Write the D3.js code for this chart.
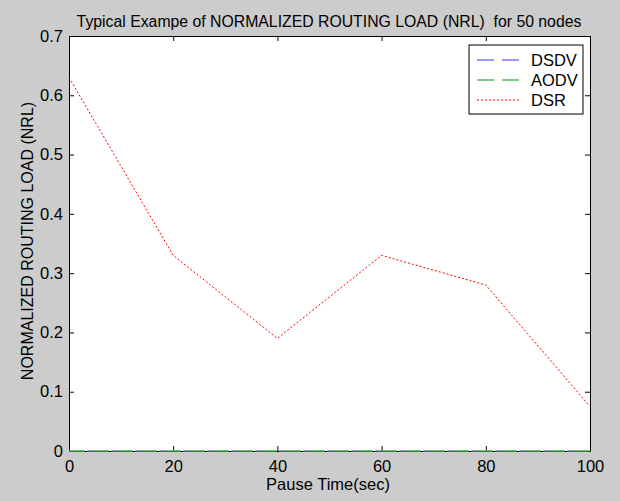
<!DOCTYPE html>
<html>
<head>
<meta charset="utf-8">
<script src="https://d3js.org/d3.v7.min.js"></script>
<style>
  body { margin: 0; background: #cccccc; }
  svg { display: block; font-family: "Liberation Sans", Arial, sans-serif; }
</style>
</head>
<body>
<div id="chart"></div>
<script>
// data
var pauseTimes = [0, 20, 40, 60, 80, 100];
var dsdv = [0, 0, 0, 0, 0, 0];
var aodv = [0, 0, 0, 0, 0, 0];
var dsr = [0.63, 0.33, 0.19, 0.33, 0.28, 0.075];
var xTicks = [0, 20, 40, 60, 80, 100];
var yTicks = [0, 0.1, 0.2, 0.3, 0.4, 0.5, 0.6, 0.7];
var seriesNames = ["DSDV", "AODV", "DSR"];

var width = 620, height = 501;
var margin = {left: 69, top: 36, right: 30, bottom: 50};

var svg = d3.select("#chart").append("svg")
    .attr("width", width)
    .attr("height", height);

svg.append("rect").attr("width", width).attr("height", height).attr("fill", "#cccccc");

var x = d3.scaleLinear().domain([0, 100]).range([margin.left, width - margin.right]);
var y = d3.scaleLinear().domain([0, 0.7]).range([height - margin.bottom, margin.top]);

// plot area
svg.append("rect")
    .attr("x", x(0)).attr("y", y(0.7))
    .attr("width", x(100) - x(0)).attr("height", y(0) - y(0.7))
    .attr("fill", "#ffffff");

// axes, ticks pointing inward like matlab
var fmtY = function(d) { return d === 0 ? "0" : d3.format(".1f")(d); };
var axB = svg.append("g").attr("transform", "translate(0," + y(0) + ")")
    .call(d3.axisBottom(x).tickValues(xTicks).tickSizeInner(-5).tickSizeOuter(0).tickPadding(9));
var axT = svg.append("g").attr("transform", "translate(0," + y(0.7) + ")")
    .call(d3.axisTop(x).tickValues(xTicks).tickSizeInner(-5).tickSizeOuter(0).tickFormat(""));
var axL = svg.append("g").attr("transform", "translate(" + x(0) + ",0)")
    .call(d3.axisLeft(y).tickValues(yTicks).tickFormat(fmtY).tickSizeInner(-5).tickSizeOuter(0).tickPadding(6));
var axR = svg.append("g").attr("transform", "translate(" + x(100) + ",0)")
    .call(d3.axisRight(y).tickValues(yTicks).tickSizeInner(-5).tickSizeOuter(0).tickFormat(""));

[axB, axT, axL, axR].forEach(function(a) {
    a.selectAll("path").attr("stroke", "#000").attr("stroke-width", 1);
    a.selectAll("line").attr("stroke", "#000");
    a.selectAll("text").attr("fill", "#000").style("font-size", "16.5px");
});

var line = d3.line()
    .x(function(d, i) { return x(pauseTimes[i]); })
    .y(function(d) { return y(d); });

var styles = [
    {data: aodv, color: "#4aa84a", dash: "16,8", width: 1.6, off: 0},
    {data: dsdv, color: "#7878a0", dash: "6,18", width: 1.6, off: -18},
    {data: dsr, color: "#ff0000", dash: "2,2", width: 1, off: 0}
];

styles.forEach(function(s) {
    svg.append("path")
        .datum(s.data)
        .attr("d", line)
        .attr("fill", "none")
        .attr("stroke", s.color)
        .attr("stroke-width", s.width)
        .attr("stroke-dasharray", s.dash)
        .attr("stroke-dashoffset", s.off);
});

// legend
var legendColors = ["#7777ff", "#5cb85c", "#ff0000"];
var lg = svg.append("g").attr("transform", "translate(469,45)");
lg.append("rect").attr("width", 114).attr("height", 69)
    .attr("fill", "#fff").attr("stroke", "#000");
seriesNames.forEach(function(name, i) {
    var yy = 15 + i * 20;
    lg.append("line").attr("x1", 8).attr("x2", 52).attr("y1", yy).attr("y2", yy)
        .attr("stroke", legendColors[i]).attr("stroke-width", i < 2 ? 1.5 : 1)
        .attr("stroke-dasharray", i < 2 ? "17,8" : "2,2");
    lg.append("text").attr("x", 62).attr("y", yy + 6)
        .style("font-size", "16.5px").text(name);
});

// titles
svg.append("text")
    .attr("x", 329).attr("y", 27)
    .attr("text-anchor", "middle")
    .style("font-size", "15.8px")
    .style("white-space", "pre")
    .text("Typical Exampe of NORMALIZED ROUTING LOAD (NRL)  for 50 nodes");

svg.append("text")
    .attr("x", 328).attr("y", 490)
    .attr("text-anchor", "middle")
    .style("font-size", "16.5px")
    .text("Pause Time(sec)");

svg.append("text")
    .attr("transform", "translate(33,241) rotate(-90)")
    .attr("text-anchor", "middle")
    .style("font-size", "16px")
    .text("NORMALIZED ROUTING LOAD (NRL)");
</script>
</body>
</html>
